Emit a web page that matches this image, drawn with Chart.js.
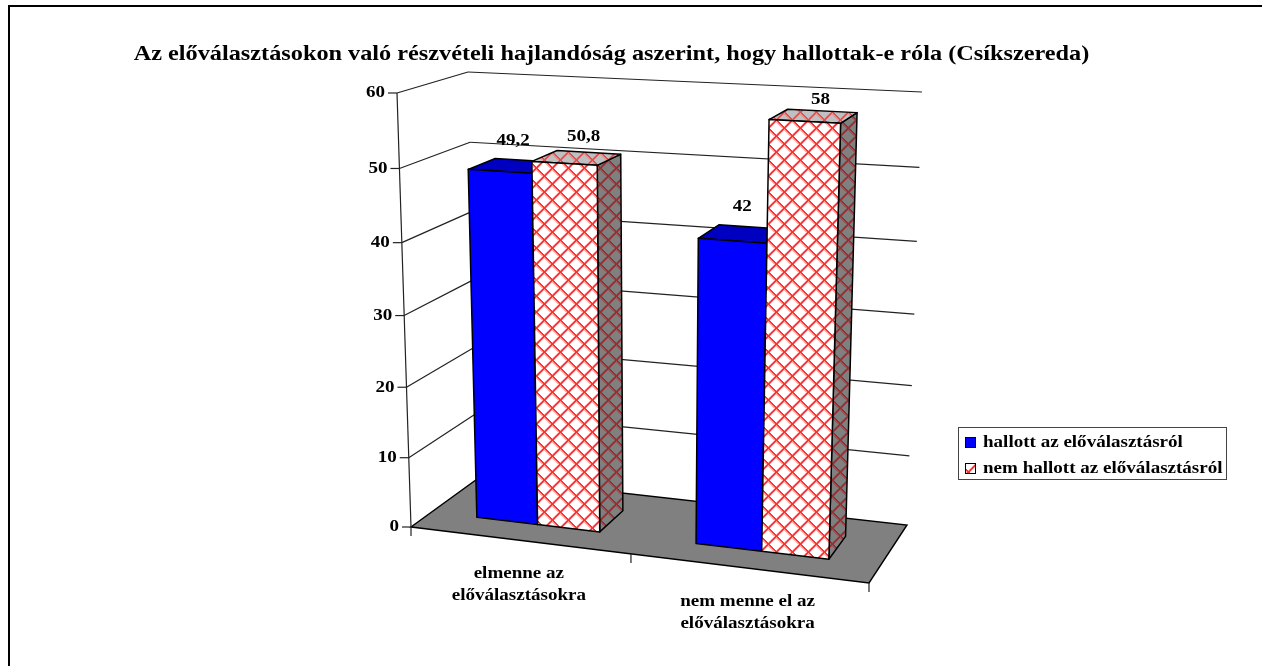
<!DOCTYPE html>
<html>
<head>
<meta charset="utf-8">
<style>
  html, body { margin: 0; padding: 0; background: #fff; overflow: hidden; }
  canvas { display: block; }
</style>
<script src="https://cdn.jsdelivr.net/npm/chart.js@4/dist/chart.umd.min.js"></script>
</head>
<body>
<canvas id="grafico" width="1262" height="666"></canvas>
<script>
var chartTitle = 'Az előválasztásokon való részvételi hajlandóság aszerint, hogy hallottak-e róla (Csíkszereda)';
var categories = [['elmenne az', 'előválasztásokra'], ['nem menne el az', 'előválasztásokra']];
var seriesNames = ['hallott az előválasztásról', 'nem hallott az előválasztásról'];
var hallott = [49.2, 42];
var nemHallott = [50.8, 58];
var yMax = 60;
var yStep = 10;

// view of the 3D box: screen position of its corners [value 0, value max]
var corners = {
    front: { left: [[411, 527], [397, 93]], right: [[869, 583], [885, 118]] },
    back: { left: [[480, 477], [468, 72]], right: [[907, 525], [922, 92]] }
};
// perspective weights, bigger means farther from the viewer
var persp = { u: -0.076, v: -0.05, d: 0.06 };
var barDepth = [0.29, 0.69];
// label nudges per [series][category]
var labelNudge = [[[0, -25], [0, -27]], [[7, -21], [7, -16]]];

var FONT = '"Liberation Serif", "Times New Roman", serif';
var TEXT_FONT = 'bold 17px ' + FONT;
var TEXT_STRETCH = 1.12; // the original picture is wider than it is tall
var TITLE_FONT = 'bold 21px ' + FONT;
var TITLE_STRETCH = 1.156;

function project(u, v, d) {
    var num = [0, 0], den = 0;
    [0, 1].forEach(function (iu) {
        [0, 1].forEach(function (iv) {
            [0, 1].forEach(function (id) {
                var b = (iu ? u : 1 - u) * (iv ? v : 1 - v) * (id ? d : 1 - d);
                var w = b * (1 + persp.u * iu + persp.v * iv + persp.d * id);
                var c = corners[id ? 'back' : 'front'][iu ? 'right' : 'left'][iv];
                num[0] += w * c[0];
                num[1] += w * c[1];
                den += w;
            });
        });
    });
    return [num[0] / den, num[1] / den];
}

function makeHatch(bg, halo, line) {
    var tile = document.createElement('canvas');
    tile.width = 16;
    tile.height = 16;
    var c = tile.getContext('2d');
    c.fillStyle = bg;
    c.fillRect(0, 0, 16, 16);
    c.fillStyle = halo;
    for (var i = 0; i < 16; i++) {
        c.fillRect(i - 1, i, 3, 2);
        c.fillRect(15 - i - 1, i, 3, 2);
    }
    c.fillStyle = line;
    for (var k = 0; k < 16; k++) {
        c.fillRect(k, k, 2, 1);
        c.fillRect(15 - k, k, 2, 1);
    }
    return c.createPattern(tile, 'repeat');
}

function poly(ctx, pts, fill) {
    ctx.beginPath();
    pts.forEach(function (p, i) {
        if (i === 0) ctx.moveTo(p[0], p[1]); else ctx.lineTo(p[0], p[1]);
    });
    ctx.closePath();
    if (fill) {
        ctx.fillStyle = fill;
        ctx.fill();
    }
    ctx.stroke();
}

function line(ctx, a, b) {
    ctx.beginPath();
    ctx.moveTo(a[0], a[1]);
    ctx.lineTo(b[0], b[1]);
    ctx.stroke();
}

function wideText(ctx, txt, x, y, stretch) {
    ctx.save();
    ctx.translate(x, y);
    ctx.scale(stretch || TEXT_STRETCH, 1);
    ctx.fillText(txt, 0, 0);
    ctx.restore();
}

var box3d = {
    id: 'box3d',
    beforeDatasetsDraw: function (chart) {
        var ctx = chart.ctx, yScale = chart.scales.y, area = chart.chartArea;
        var toV = function (value) { return (area.bottom - yScale.getPixelForValue(value)) / area.height; };

        // frame, only top and left in the original
        ctx.save();
        ctx.strokeStyle = '#000';
        ctx.lineWidth = 2;
        line(ctx, [9, 666], [9, 6]);
        line(ctx, [8, 6], [1262, 6]);

        // title
        ctx.fillStyle = '#000';
        ctx.font = TITLE_FONT;
        ctx.textAlign = 'center';
        ctx.textBaseline = 'middle';
        wideText(ctx, chartTitle, 611.5, 55, TITLE_STRETCH);

        // floor
        ctx.lineWidth = 1.4;
        poly(ctx, [project(0, 0, 0), project(1, 0, 0), project(1, 0, 1), project(0, 0, 1)], '#808080');

        // gridlines on both walls, and the axis ticks
        ctx.lineWidth = 1.2;
        ctx.strokeStyle = '#222';
        ctx.font = TEXT_FONT;
        ctx.textAlign = 'right';
        yScale.ticks.forEach(function (t) {
            var v = toV(t.value);
            var p0 = project(0, v, 0), p1 = project(0, v, 1), p2 = project(1, v, 1);
            if (t.value > 0) {
                line(ctx, p0, p1);
                line(ctx, p1, p2);
            }
            line(ctx, [p0[0] - 9, p0[1]], p0);
            ctx.fillStyle = '#000';
            wideText(ctx, t.value, p0[0] - 12, p0[1]);
        });
        line(ctx, project(0, 0, 0), project(0, 1, 0));

        // category ticks and labels along the front edge
        var xScale = chart.scales.x;
        var toU = function (px) { return (px - area.left) / area.width; };
        [0, 0.5, 1].forEach(function (u) {
            var p = project(u, 0, 0);
            line(ctx, p, [p[0], p[1] + 9]);
        });
        ctx.textAlign = 'center';
        categories.forEach(function (lines, i) {
            var p = project(toU(xScale.getPixelForValue(i)), 0, 0);
            lines.forEach(function (txt, k) {
                wideText(ctx, txt, p[0], p[1] + 33 + k * 22);
            });
        });
        ctx.restore();

        // bars, back to front inside each category
        categories.forEach(function (_, j) {
            chart.data.datasets.forEach(function (ds, i) {
                var bar = chart.getDatasetMeta(i).data[j];
                var u0 = toU(bar.x - bar.width / 2), u1 = toU(bar.x + bar.width / 2);
                var v = toV(ds.data[j]);
                var d0 = barDepth[0], d1 = barDepth[1];
                ctx.save();
                ctx.strokeStyle = '#000';
                ctx.lineWidth = 1.5;
                ctx.lineJoin = 'round';
                poly(ctx, [project(u1, 0, d0), project(u1, 0, d1), project(u1, v, d1), project(u1, v, d0)], ds.faces.side);
                poly(ctx, [project(u0, v, d0), project(u1, v, d0), project(u1, v, d1), project(u0, v, d1)], ds.faces.top);
                poly(ctx, [project(u0, 0, d0), project(u1, 0, d0), project(u1, v, d0), project(u0, v, d0)], ds.faces.front);
                ctx.restore();
            });
        });

        // value labels go over everything
        ctx.save();
        ctx.fillStyle = '#000';
        ctx.font = TEXT_FONT;
        ctx.textAlign = 'center';
        ctx.textBaseline = 'middle';
        chart.data.datasets.forEach(function (ds, i) {
            ds.data.forEach(function (value, j) {
                var bar = chart.getDatasetMeta(i).data[j];
                var top = project(toU(bar.x), toV(value), (barDepth[0] + barDepth[1]) / 2);
                var n = labelNudge[i][j];
                wideText(ctx, String(value).replace('.', ','), top[0] + n[0], top[1] + n[1]);
            });
        });

        // legend box
        ctx.strokeStyle = '#444';
        ctx.lineWidth = 1;
        ctx.strokeRect(958.5, 427.5, 268, 52);
        ctx.textAlign = 'left';
        chart.data.datasets.forEach(function (ds, i) {
            var y = 437.5 + i * 26;
            ctx.fillStyle = ds.faces.front;
            ctx.fillRect(965.5, y, 10, 10);
            ctx.strokeStyle = '#000';
            ctx.strokeRect(965.5, y, 10, 10);
            ctx.fillStyle = '#000';
            wideText(ctx, ds.label, 983, y + 5);
        });
        ctx.restore();
        return false;
    },
    beforeDatasetDraw: function () {
        return false; // the projected faces above replace the flat bars
    }
};

var ctxGrafico = document.getElementById('grafico').getContext('2d');

var grafico = new Chart(ctxGrafico, {
    type: 'bar',
    data: {
        labels: categories,
        datasets: [{
            label: seriesNames[0],
            data: hallott,
            faces: { front: '#0000ff', top: '#0000c0', side: '#000080' }
        }, {
            label: seriesNames[1],
            data: nemHallott,
            faces: {
                front: makeHatch('#ffffff', '#ffb4b4', '#ff3030'),
                top: makeHatch('#c0c0c0', '#d09c9c', '#e05050'),
                side: makeHatch('#808080', '#806464', '#9c2c30')
            }
        }]
    },
    plugins: [box3d],
    options: {
        responsive: false,
        animation: false,
        events: [],
        categoryPercentage: 0.57,
        barPercentage: 1,
        layout: { padding: { right: 40, top: 60, left: 0, bottom: 20 } },
        scales: {
            x: { display: false },
            y: { display: false, min: 0, max: yMax, ticks: { stepSize: yStep } }
        },
        plugins: {
            legend: { display: false },
            tooltip: { enabled: false },
            title: { display: false }
        }
    }
});
</script>
</body>
</html>
